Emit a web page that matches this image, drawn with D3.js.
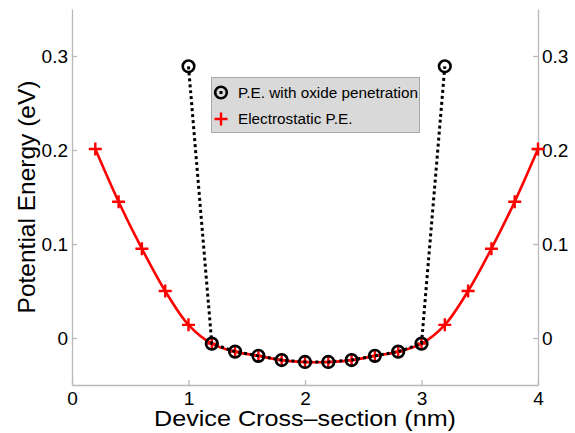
<!DOCTYPE html>
<html>
<head>
<meta charset="utf-8">
<script src="https://cdn.jsdelivr.net/npm/d3@7"></script>
<style>
  html, body { margin: 0; padding: 0; background: #fff; }
  svg { display: block; }
  text { font-family: "Liberation Sans", Arial, Helvetica, sans-serif; }
</style>
</head>
<body>
<script>
// Position across the device (nm)
const positions = [0.2, 0.4, 0.6, 0.8, 1.0, 1.2, 1.4, 1.6, 1.8, 2.0,
                   2.2, 2.4, 2.6, 2.8, 3.0, 3.2, 3.4, 3.6, 3.8, 4.0];
// Electrostatic potential energy (eV)
const electrostatic = [0.201, 0.145, 0.095, 0.050, 0.014, -0.006, -0.0145, -0.019, -0.0235, -0.0255,
                       -0.0255, -0.0235, -0.019, -0.0145, -0.006, 0.014, 0.050, 0.095, 0.145, 0.201];
// Potential energy including oxide penetration (eV)
const oxidePositions = [1.0, 1.2, 1.4, 1.6, 1.8, 2.0, 2.2, 2.4, 2.6, 2.8, 3.0, 3.2];
const oxideValues = [0.289, -0.006, -0.0145, -0.019, -0.0235, -0.0255,
                     -0.0255, -0.0235, -0.019, -0.0145, -0.006, 0.289];
const xTicks = [0, 1, 2, 3, 4];
const yTicks = [0, 0.1, 0.2, 0.3];
const legendLabels = ["P.E. with oxide penetration", "Electrostatic P.E."];

const W = 575, H = 433;
const plotLeft = 72, plotRight = 538, plotTop = 9, plotBottom = 385;

const svg = d3.select("body").append("svg").attr("width", W).attr("height", H);

const x = d3.scaleLinear().domain([0, 4]).range([plotLeft, plotRight]);
const y = d3.scaleLinear().domain([-0.05, 0.35]).range([plotBottom, plotTop]);

const axisColor = "#b8b8b8";
const tickFont = "19px";

// Axes: left, right, bottom with inward ticks
const yLeft = svg.append("g").attr("transform", `translate(${plotLeft},0)`)
  .call(d3.axisLeft(y).tickValues(yTicks).tickSizeInner(-5).tickSizeOuter(0)
        .tickPadding(10).tickFormat(d => d === 0 ? "0" : d3.format(".1f")(d)));
const yRight = svg.append("g").attr("transform", `translate(${plotRight},0)`)
  .call(d3.axisRight(y).tickValues(yTicks).tickSizeInner(-5).tickSizeOuter(0)
        .tickPadding(10).tickFormat(d => d === 0 ? "0" : d3.format(".1f")(d)));
const xBottom = svg.append("g").attr("transform", `translate(0,${plotBottom})`)
  .call(d3.axisBottom(x).tickValues(xTicks).tickSizeInner(-5).tickSizeOuter(0)
        .tickPadding(7).tickFormat(d3.format("d")));

[yLeft, yRight, xBottom].forEach(g => {
  g.select(".domain").attr("stroke", axisColor).attr("stroke-width", 1.3);
  g.selectAll(".tick line").attr("stroke", axisColor).attr("stroke-width", 1.3);
  g.selectAll(".tick text").attr("fill", "#000").style("font-size", tickFont)
    .style("font-family", "'Liberation Sans', Arial, Helvetica, sans-serif");
});
yLeft.selectAll(".tick text").attr("x", -4);
yRight.selectAll(".tick text").attr("x", 4);

// Electrostatic P.E. (red smooth curve with plus markers)
const redLine = d3.line().x((d, i) => x(positions[i])).y(d => y(d)).curve(d3.curveCatmullRom);
svg.append("path").datum(electrostatic)
  .attr("d", redLine).attr("fill", "none").attr("stroke", "#ff0000").attr("stroke-width", 2.6);

const plusSize = 6.5;
function plus(g, cx, cy) {
  g.append("path")
    .attr("d", `M${cx - plusSize},${cy}H${cx + plusSize}M${cx},${cy - plusSize}V${cy + plusSize}`)
    .attr("stroke", "#ff0000").attr("stroke-width", 2.4).attr("fill", "none");
}
const redMarks = svg.append("g");
electrostatic.forEach((v, i) => plus(redMarks, x(positions[i]), y(v)));

// P.E. with oxide penetration (black dotted line with circle markers)
const blackLine = d3.line().x((d, i) => x(oxidePositions[i])).y(d => y(d));
svg.append("path").datum(oxideValues)
  .attr("d", blackLine).attr("fill", "none").attr("stroke", "#000")
  .attr("stroke-width", 3).attr("stroke-dasharray", "3,3");

svg.append("g").selectAll("circle").data(oxideValues).join("circle")
  .attr("cx", (d, i) => x(oxidePositions[i])).attr("cy", d => y(d))
  .attr("r", 5.8).attr("fill", "none").attr("stroke", "#000").attr("stroke-width", 2.6);

// Legend
const lg = svg.append("g");
lg.append("rect").attr("x", 211.5).attr("y", 77.5).attr("width", 208).attr("height", 55)
  .attr("fill", "#d9d9d9").attr("stroke", "#a8a8a8").attr("stroke-width", 1);
lg.append("circle").attr("cx", 221).attr("cy", 92.5).attr("r", 5.8)
  .attr("fill", "none").attr("stroke", "#000").attr("stroke-width", 2.6);
lg.append("rect").attr("x", 219.5).attr("y", 91).attr("width", 3).attr("height", 3).attr("fill", "#000");
plus(lg, 221, 119);
lg.append("text").attr("x", 238).attr("y", 97.5).text(legendLabels[0])
  .style("font-size", "15.3px").attr("fill", "#000");
lg.append("text").attr("x", 238).attr("y", 123.5).text(legendLabels[1])
  .style("font-size", "15.3px").attr("fill", "#000");

// Axis titles
svg.append("text").attr("x", (plotLeft + plotRight) / 2).attr("y", 426)
  .attr("text-anchor", "middle").style("font-size", "22px").attr("fill", "#000")
  .attr("textLength", 302).attr("lengthAdjust", "spacingAndGlyphs")
  .text("Device Cross\u2013section (nm)");
svg.append("text").attr("transform", "translate(35,197) rotate(-90)")
  .attr("text-anchor", "middle").style("font-size", "24.5px").attr("fill", "#000")
  .text("Potential Energy (eV)");
</script>
</body>
</html>
